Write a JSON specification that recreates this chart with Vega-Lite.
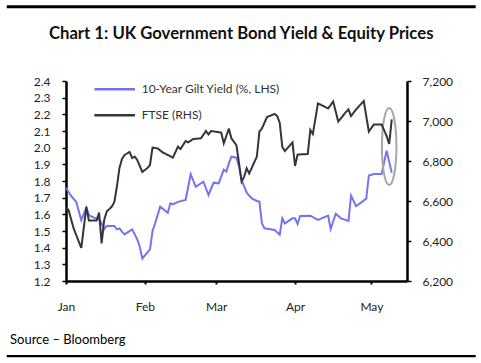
{
  "$schema": "https://vega.github.io/schema/vega-lite/v6.json",
  "width": 341,
  "height": 200,
  "autosize": "none",
  "padding": {"left": 66, "top": 81, "right": 74, "bottom": 82},
  "background": "white",
  "config": {
    "view": {"stroke": null},
    "axis": {"labelOverlap": false, "grid": false, "title": null, "labelFont": "Lato", "labelFontSize": 12, "labelColor": "#222",
             "tickColor": "black", "domainColor": "black", "domainWidth": 2.5},
    "axisX": {"labelFlush": false, "tickSize": 3, "tickWidth": 2, "labelPadding": 17},
    "axisY": {"tickSize": 4, "tickWidth": 1.5}
  },
  "title": {
    "text": "Chart 1: UK Government Bond Yield & Equity Prices",
    "font": "Lato", "fontSize": 16.7, "fontWeight": "bold", "color": "#111",
    "anchor": "middle", "frame": "bounds", "offset": 0, "baseline": "alphabetic", "dy": 51
  },
  "datasets": {
    "gilt": [
      {"date": "2015-01-02", "value": 1.76},
      {"date": "2015-01-04", "value": 1.71},
      {"date": "2015-01-06", "value": 1.675},
      {"date": "2015-01-08", "value": 1.565},
      {"date": "2015-01-10", "value": 1.64},
      {"date": "2015-01-11", "value": 1.595},
      {"date": "2015-01-13", "value": 1.58},
      {"date": "2015-01-15", "value": 1.57},
      {"date": "2015-01-16", "value": 1.546},
      {"date": "2015-01-17", "value": 1.51},
      {"date": "2015-01-18", "value": 1.53},
      {"date": "2015-01-21", "value": 1.53},
      {"date": "2015-01-22", "value": 1.51},
      {"date": "2015-01-23", "value": 1.516},
      {"date": "2015-01-24", "value": 1.496},
      {"date": "2015-01-25", "value": 1.48},
      {"date": "2015-01-28", "value": 1.51},
      {"date": "2015-01-30", "value": 1.45},
      {"date": "2015-01-31", "value": 1.406},
      {"date": "2015-02-01", "value": 1.335},
      {"date": "2015-02-04", "value": 1.39},
      {"date": "2015-02-05", "value": 1.5},
      {"date": "2015-02-06", "value": 1.545},
      {"date": "2015-02-08", "value": 1.646},
      {"date": "2015-02-11", "value": 1.61},
      {"date": "2015-02-12", "value": 1.666},
      {"date": "2015-02-13", "value": 1.66},
      {"date": "2015-02-15", "value": 1.675},
      {"date": "2015-02-18", "value": 1.686},
      {"date": "2015-02-20", "value": 1.84},
      {"date": "2015-02-22", "value": 1.765},
      {"date": "2015-02-25", "value": 1.796},
      {"date": "2015-02-27", "value": 1.716},
      {"date": "2015-03-01", "value": 1.79},
      {"date": "2015-03-03", "value": 1.786},
      {"date": "2015-03-05", "value": 1.868},
      {"date": "2015-03-06", "value": 1.856},
      {"date": "2015-03-07", "value": 1.906},
      {"date": "2015-03-08", "value": 1.946},
      {"date": "2015-03-10", "value": 1.94},
      {"date": "2015-03-11", "value": 1.886},
      {"date": "2015-03-12", "value": 1.806},
      {"date": "2015-03-14", "value": 1.73},
      {"date": "2015-03-16", "value": 1.696},
      {"date": "2015-03-18", "value": 1.68},
      {"date": "2015-03-19", "value": 1.676},
      {"date": "2015-03-20", "value": 1.546},
      {"date": "2015-03-21", "value": 1.516},
      {"date": "2015-03-25", "value": 1.506},
      {"date": "2015-03-27", "value": 1.478},
      {"date": "2015-03-28", "value": 1.576},
      {"date": "2015-03-29", "value": 1.545},
      {"date": "2015-04-01", "value": 1.576},
      {"date": "2015-04-02", "value": 1.576},
      {"date": "2015-04-03", "value": 1.542},
      {"date": "2015-04-04", "value": 1.59},
      {"date": "2015-04-08", "value": 1.592},
      {"date": "2015-04-11", "value": 1.567},
      {"date": "2015-04-15", "value": 1.592},
      {"date": "2015-04-16", "value": 1.512},
      {"date": "2015-04-18", "value": 1.604},
      {"date": "2015-04-20", "value": 1.576},
      {"date": "2015-04-23", "value": 1.56},
      {"date": "2015-04-24", "value": 1.712},
      {"date": "2015-04-26", "value": 1.648},
      {"date": "2015-04-30", "value": 1.694},
      {"date": "2015-05-01", "value": 1.833},
      {"date": "2015-05-03", "value": 1.842},
      {"date": "2015-05-06", "value": 1.842},
      {"date": "2015-05-08", "value": 1.982},
      {"date": "2015-05-10", "value": 1.85}
    ],
    "ftse": [
      {"date": "2015-01-02", "value": 6568},
      {"date": "2015-01-03", "value": 6555},
      {"date": "2015-01-05", "value": 6463},
      {"date": "2015-01-08", "value": 6365},
      {"date": "2015-01-10", "value": 6570},
      {"date": "2015-01-11", "value": 6502},
      {"date": "2015-01-14", "value": 6502},
      {"date": "2015-01-15", "value": 6542},
      {"date": "2015-01-16", "value": 6388},
      {"date": "2015-01-17", "value": 6505},
      {"date": "2015-01-18", "value": 6547},
      {"date": "2015-01-20", "value": 6572},
      {"date": "2015-01-21", "value": 6595},
      {"date": "2015-01-22", "value": 6672},
      {"date": "2015-01-23", "value": 6765},
      {"date": "2015-01-24", "value": 6810},
      {"date": "2015-01-25", "value": 6830},
      {"date": "2015-01-27", "value": 6845},
      {"date": "2015-01-28", "value": 6815},
      {"date": "2015-01-29", "value": 6822},
      {"date": "2015-01-30", "value": 6805},
      {"date": "2015-02-01", "value": 6745},
      {"date": "2015-02-03", "value": 6765},
      {"date": "2015-02-04", "value": 6780},
      {"date": "2015-02-05", "value": 6867},
      {"date": "2015-02-07", "value": 6863},
      {"date": "2015-02-09", "value": 6843},
      {"date": "2015-02-13", "value": 6817},
      {"date": "2015-02-15", "value": 6872},
      {"date": "2015-02-16", "value": 6860},
      {"date": "2015-02-18", "value": 6900},
      {"date": "2015-02-19", "value": 6893},
      {"date": "2015-02-21", "value": 6910},
      {"date": "2015-02-24", "value": 6913},
      {"date": "2015-02-26", "value": 6950},
      {"date": "2015-02-27", "value": 6933},
      {"date": "2015-02-28", "value": 6950},
      {"date": "2015-03-04", "value": 6942},
      {"date": "2015-03-05", "value": 6888},
      {"date": "2015-03-07", "value": 6962},
      {"date": "2015-03-08", "value": 6913},
      {"date": "2015-03-10", "value": 6878},
      {"date": "2015-03-12", "value": 6697},
      {"date": "2015-03-13", "value": 6722},
      {"date": "2015-03-14", "value": 6763},
      {"date": "2015-03-15", "value": 6738},
      {"date": "2015-03-18", "value": 6822},
      {"date": "2015-03-19", "value": 6947},
      {"date": "2015-03-20", "value": 6963},
      {"date": "2015-03-22", "value": 7020},
      {"date": "2015-03-25", "value": 7035},
      {"date": "2015-03-26", "value": 7025},
      {"date": "2015-03-27", "value": 6990},
      {"date": "2015-03-28", "value": 6870},
      {"date": "2015-03-29", "value": 6850},
      {"date": "2015-04-01", "value": 6893},
      {"date": "2015-04-02", "value": 6775},
      {"date": "2015-04-03", "value": 6832},
      {"date": "2015-04-07", "value": 6835},
      {"date": "2015-04-08", "value": 6955},
      {"date": "2015-04-09", "value": 6935},
      {"date": "2015-04-11", "value": 7088},
      {"date": "2015-04-15", "value": 7063},
      {"date": "2015-04-17", "value": 7097},
      {"date": "2015-04-19", "value": 6997},
      {"date": "2015-04-22", "value": 7045},
      {"date": "2015-04-23", "value": 7058},
      {"date": "2015-04-24", "value": 7025},
      {"date": "2015-04-26", "value": 7058},
      {"date": "2015-04-29", "value": 7100},
      {"date": "2015-05-01", "value": 6947},
      {"date": "2015-05-03", "value": 6983},
      {"date": "2015-05-06", "value": 6983},
      {"date": "2015-05-08", "value": 6925},
      {"date": "2015-05-09", "value": 6885},
      {"date": "2015-05-10", "value": 7008}
    ],
    "highlight": [
      {"date": "2015-05-09", "value": 2.007}
    ],
    "source": [
      {"text": "Source – Bloomberg"}
    ]
  },
  "layer": [
    {
      "layer": [
        {
          "data": {"name": "gilt"},
          "mark": {"type": "line", "strokeWidth": 2},
          "encoding": {
            "x": {"field": "date", "type": "temporal",
                  "scale": {"domain": [{"year": 2015, "month": 1, "date": 2}, {"year": 2015, "month": 5, "date": 16}]},
                  "axis": {
                    "values": [
                      {"year": 2015, "month": 1, "date": 2},
                      {"year": 2015, "month": 2, "date": 2},
                      {"year": 2015, "month": 3, "date": 2},
                      {"year": 2015, "month": 4, "date": 2},
                      {"year": 2015, "month": 5, "date": 2}
                    ],
                    "tickCount": 5,
                    "format": "%b", "labelFlush": false, "labelOverlap": false, "title": null
                  }},
            "y": {"field": "value", "type": "quantitative",
                  "scale": {"domain": [1.2, 2.4], "nice": false, "zero": false},
                  "axis": {
                    "orient": "left",
                    "values": [1.2, 1.3, 1.4, 1.5, 1.6, 1.7, 1.8, 1.9, 2.0, 2.1, 2.2, 2.3, 2.4],
                    "tickCount": 13,
                    "format": ".1f", "labelOverlap": false, "labelPadding": 12, "title": null
                  }},
            "color": {"datum": "10-Year Gilt Yield (%, LHS)",
                      "scale": {"domain": ["10-Year Gilt Yield (%, LHS)"], "range": ["#7474F2"]},
                      "legend": {
                        "orient": "none", "legendX": 26.7, "legendY": -13.7, "title": null,
                        "symbolType": "stroke", "symbolSize": 1650, "symbolStrokeWidth": 2.5,
                        "labelFont": "Lato", "labelFontSize": 12, "labelColor": "#333",
                        "labelOffset": 5, "padding": 0
                      }}
          }
        },
        {
          "data": {"name": "highlight"},
          "mark": {"type": "point", "shape": "M0,-1C0.104,-1 0.188,-0.552 0.188,0C0.188,0.552 0.104,1 0,1C-0.104,1 -0.188,0.552 -0.188,0C-0.188,-0.552 -0.104,-1 0,-1Z",
                   "size": 5929, "filled": false, "stroke": "#A6A6A6", "strokeWidth": 2, "opacity": 1},
          "encoding": {
            "x": {"field": "date", "type": "temporal",
                  "scale": {"domain": [{"year": 2015, "month": 1, "date": 2}, {"year": 2015, "month": 5, "date": 16}]}},
            "y": {"field": "value", "type": "quantitative",
                  "scale": {"domain": [1.2, 2.4], "nice": false, "zero": false}}
          }
        },
        {
          "data": {"values": [{}]},
          "mark": {"type": "rule", "color": "black", "strokeWidth": 3},
          "encoding": {
            "x": {"datum": {"year": 2014, "month": 12, "date": 9, "hours": 17}, "type": "temporal",
                  "scale": {"domain": [{"year": 2015, "month": 1, "date": 2}, {"year": 2015, "month": 5, "date": 16}]}},
            "x2": {"datum": {"year": 2015, "month": 6, "date": 12}},
            "y": {"datum": 2.846, "type": "quantitative",
                  "scale": {"domain": [1.2, 2.4], "nice": false, "zero": false}}
          }
        },
        {
          "data": {"values": [{}]},
          "mark": {"type": "rule", "color": "black", "strokeWidth": 2.2},
          "encoding": {
            "x": {"datum": {"year": 2014, "month": 12, "date": 9, "hours": 17}, "type": "temporal",
                  "scale": {"domain": [{"year": 2015, "month": 1, "date": 2}, {"year": 2015, "month": 5, "date": 16}]}},
            "x2": {"datum": {"year": 2015, "month": 6, "date": 12}},
            "y": {"datum": 0.749, "type": "quantitative",
                  "scale": {"domain": [1.2, 2.4], "nice": false, "zero": false}}
          }
        },
        {
          "data": {"name": "source"},
          "mark": {"type": "text", "align": "left", "baseline": "middle", "font": "Lato", "fontSize": 13, "color": "black"},
          "encoding": {
            "x": {"datum": {"year": 2014, "month": 12, "date": 11}, "type": "temporal",
                  "scale": {"domain": [{"year": 2015, "month": 1, "date": 2}, {"year": 2015, "month": 5, "date": 16}]}},
            "y": {"datum": 0.846, "type": "quantitative",
                  "scale": {"domain": [1.2, 2.4], "nice": false, "zero": false}},
            "text": {"field": "text", "type": "nominal"}
          }
        }
      ]
    },
    {
      "data": {"name": "ftse"},
      "mark": {"type": "line", "strokeWidth": 2, "color": "#34343F"},
      "encoding": {
        "x": {"field": "date", "type": "temporal",
              "scale": {"domain": [{"year": 2015, "month": 1, "date": 2}, {"year": 2015, "month": 5, "date": 16}]}},
        "y": {"field": "value", "type": "quantitative",
              "scale": {"domain": [6200, 7200], "nice": false, "zero": false},
              "axis": {
                "orient": "right",
                "values": [6200, 6400, 6600, 6800, 7000, 7200],
                "tickCount": 6,
                "format": ",.0f", "labelOverlap": false, "labelPadding": 11, "title": null
              }},
        "strokeDash": {"datum": "FTSE (RHS)",
                       "scale": {"domain": ["FTSE (RHS)"], "range": [[1, 0]]},
                       "legend": {
                         "orient": "none", "legendX": 26.7, "legendY": 12.3, "title": null,
                         "symbolType": "stroke", "symbolSize": 1650, "symbolStrokeWidth": 2.5,
                         "symbolStrokeColor": "#34343F",
                         "labelFont": "Lato", "labelFontSize": 12, "labelColor": "#333",
                         "labelOffset": 5, "padding": 0
                       }}
      }
    }
  ],
  "resolve": {"scale": {"y": "independent"}}
}
